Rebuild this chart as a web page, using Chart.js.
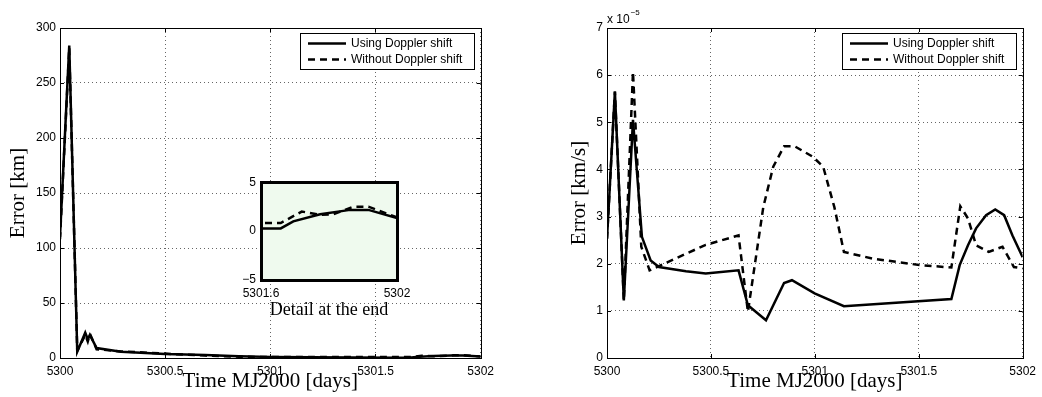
<!DOCTYPE html>
<html>
<head>
<meta charset="utf-8">
<title>Doppler shift error</title>
<script src="https://cdn.jsdelivr.net/npm/chart.js@4.4.0/dist/chart.umd.min.js"></script>
<style>
  html, body { margin: 0; padding: 0; background: #fff; }
  #wrap { position: relative; width: 1042px; height: 397px; overflow: hidden; }
  canvas { position: absolute; }
  #posChart { left: 0; top: 0; }
  #detailChart { left: 220px; top: 170px; }
  #velChart { left: 561px; top: 0; }
</style>
</head>
<body>
<div id="wrap">
  <canvas id="posChart" width="500" height="397"></canvas>
  <canvas id="detailChart" width="200" height="160"></canvas>
  <canvas id="velChart" width="481" height="397"></canvas>
</div>
<script>
// ===================================
// Data
// ===================================

// Tick labels
const posXTicks = [5300, 5300.5, 5301, 5301.5, 5302];
const posYTicks = [0, 50, 100, 150, 200, 250, 300];
const velYTicks = [0, 1, 2, 3, 4, 5, 6, 7];
const detailXTicks = [5301.6, 5302];
const detailYTicks = [-5, 0, 5];

// Position error [km]
const posTimeUsing = [5300, 5300.044, 5300.082, 5300.12, 5300.132, 5300.142, 5300.174, 5300.29, 5300.5, 5300.69, 5300.85, 5301.0, 5301.2, 5301.4, 5301.6, 5301.658, 5301.695, 5301.774, 5301.862, 5301.916, 5302];
const posErrUsing = [110, 284, 5.7, 23, 17, 21, 9, 5.7, 3.6, 2.7, 1.6, 1.0, 0.7, 0.5, 0.27, 0.27, 1.0, 1.73, 2.17, 2.17, 1.33];
const posTimeWithout = [5300, 5300.044, 5300.082, 5300.12, 5300.132, 5300.142, 5300.174, 5300.29, 5300.5, 5300.69, 5300.85, 5301.0, 5301.2, 5301.4, 5301.6, 5301.658, 5301.72, 5301.774, 5301.813, 5301.872, 5301.916, 5302];
const posErrWithout = [108, 282, 6.5, 21, 15, 22, 8, 6, 4, 2.2, 1.2, 0.8, 0.9, 0.9, 0.83, 0.83, 2.0, 1.67, 1.73, 2.5, 2.5, 1.4];

// Velocity error [km/s], in units of 1e-5
const velTimeUsing = [5300, 5300.038, 5300.081, 5300.125, 5300.168, 5300.21, 5300.25, 5300.38, 5300.475, 5300.633, 5300.678, 5300.765, 5300.852, 5300.89, 5300.999, 5301.14, 5301.657, 5301.697, 5301.737, 5301.776, 5301.824, 5301.868, 5301.911, 5301.951, 5302];
const velErrUsing = [2.53, 5.65, 1.22, 5.05, 2.57, 2.07, 1.93, 1.84, 1.79, 1.86, 1.12, 0.8, 1.59, 1.65, 1.37, 1.1, 1.25, 1.97, 2.39, 2.75, 3.03, 3.15, 3.03, 2.6, 2.14];
const velTimeWithout = [5300, 5300.038, 5300.081, 5300.125, 5300.165, 5300.205, 5300.475, 5300.633, 5300.678, 5300.752, 5300.8, 5300.852, 5300.903, 5300.99, 5301.04, 5301.094, 5301.14, 5301.276, 5301.506, 5301.657, 5301.7, 5301.737, 5301.776, 5301.837, 5301.903, 5301.958, 5302];
const velErrWithout = [2.53, 5.65, 1.22, 6.07, 2.36, 1.86, 2.4, 2.6, 0.98, 3.2, 4.06, 4.49, 4.49, 4.27, 4.06, 3.2, 2.25, 2.11, 1.97, 1.92, 3.22, 2.96, 2.39, 2.25, 2.36, 1.93, 1.9];

const seriesLabels = ['Using Doppler shift', 'Without Doppler shift'];

// ===================================
// Helpers
// ===================================

const SERIF = '"Liberation Serif", "Times New Roman", serif';
const SANS = '"Liberation Sans", Arial, Helvetica, sans-serif';

function toPoints(xs, ys) {
    return xs.map((x, i) => ({ x: x, y: ys[i] }));
}

function fmtTick(v) {
    const s = String(Math.round(v * 10) / 10);
    return s.replace('-', '\u2212');
}

function makeDatasets(t1, y1, t2, y2, width) {
    return [{
        label: seriesLabels[0],
        data: toPoints(t1, y1),
        borderColor: '#000',
        borderWidth: width,
        pointRadius: 0,
        tension: 0
    }, {
        label: seriesLabels[1],
        data: toPoints(t2, y2),
        borderColor: '#000',
        borderWidth: width,
        borderDash: [7, 5],
        pointRadius: 0,
        tension: 0
    }];
}

function makeAxis(opts) {
    return {
        type: 'linear',
        min: opts.min,
        max: opts.max,
        afterBuildTicks: scale => { scale.ticks = opts.ticks.map(v => ({ value: v })); },
        afterFit: scale => {
            if (opts.width !== undefined) scale.width = opts.width;
            if (opts.height !== undefined) scale.height = opts.height;
        },
        grid: {
            display: opts.grid,
            drawTicks: false,
            color: 'rgba(0,0,0,0.6)',
            lineWidth: 1
        },
        border: { display: false, dash: [1, 3] },
        ticks: {
            color: '#000',
            font: { family: SANS, size: 12 },
            padding: opts.tickPad,
            maxRotation: 0,
            autoSkip: false,
            callback: v => fmtTick(v)
        },
        title: {
            display: !!opts.title,
            text: opts.title,
            color: '#000',
            font: { family: SERIF, size: opts.titleSize || 21 },
            padding: opts.titlePad
        }
    };
}

// Box, inward tick marks, legend and exponent label in MATLAB style
const matlabFrame = {
    id: 'matlabFrame',
    beforeDraw(chart, args, opts) {
        const a = chart.chartArea;
        const ctx = chart.ctx;
        if (opts.background) {
            ctx.save();
            ctx.fillStyle = opts.background;
            ctx.fillRect(a.left, a.top, a.right - a.left, a.bottom - a.top);
            ctx.restore();
        }
    },
    afterDraw(chart, args, opts) {
        const a = chart.chartArea;
        const ctx = chart.ctx;
        ctx.save();
        ctx.strokeStyle = '#000';
        ctx.lineWidth = opts.boxWidth || 1;
        const off = (ctx.lineWidth % 2) ? 0.5 : 0;
        ctx.strokeRect(Math.round(a.left) + off, Math.round(a.top) + off,
            Math.round(a.right - a.left), Math.round(a.bottom - a.top));

        if (opts.tickMarks) {
            ctx.lineWidth = 1;
            ctx.beginPath();
            chart.scales.x.ticks.forEach(t => {
                const px = Math.round(chart.scales.x.getPixelForValue(t.value)) + 0.5;
                ctx.moveTo(px, a.bottom); ctx.lineTo(px, a.bottom - 4);
                ctx.moveTo(px, a.top); ctx.lineTo(px, a.top + 4);
            });
            chart.scales.y.ticks.forEach(t => {
                const py = Math.round(chart.scales.y.getPixelForValue(t.value)) + 0.5;
                ctx.moveTo(a.left, py); ctx.lineTo(a.left + 4, py);
                ctx.moveTo(a.right, py); ctx.lineTo(a.right - 4, py);
            });
            ctx.stroke();
        }

        if (opts.exponent) {
            ctx.fillStyle = '#000';
            ctx.textBaseline = 'alphabetic';
            ctx.font = '12px ' + SANS;
            ctx.fillText('x 10', a.left, a.top - 5);
            const w = ctx.measureText('x 10').width;
            ctx.font = '8px ' + SANS;
            ctx.fillText(opts.exponent, a.left + w + 1, a.top - 13);
        }

        if (opts.legend) {
            const w = 174, h = 36;
            const x0 = Math.round(a.right) - 7 - w;
            const y0 = Math.round(a.top) + 5;
            ctx.fillStyle = '#fff';
            ctx.fillRect(x0, y0, w, h);
            ctx.lineWidth = 1;
            ctx.strokeStyle = '#000';
            ctx.strokeRect(x0 + 0.5, y0 + 0.5, w, h);
            chart.data.datasets.forEach((ds, i) => {
                const y = y0 + 10.5 + i * 16;
                ctx.setLineDash(ds.borderDash || []);
                ctx.lineWidth = ds.borderWidth;
                ctx.beginPath();
                ctx.moveTo(x0 + 8, y);
                ctx.lineTo(x0 + 46, y);
                ctx.stroke();
                ctx.setLineDash([]);
                ctx.fillStyle = '#000';
                ctx.font = '12px ' + SANS;
                ctx.textBaseline = 'middle';
                ctx.fillText(ds.label, x0 + 51, y);
            });
        }
        ctx.restore();
    }
};

// ===================================
// Charts
// ===================================

function initializeCharts() {
    // Position error
    new Chart(document.getElementById('posChart'), {
        type: 'line',
        data: { datasets: makeDatasets(posTimeUsing, posErrUsing, posTimeWithout, posErrWithout, 2.5) },
        options: {
            responsive: false,
            animation: false,
            layout: { padding: { left: 0, top: 28, right: 19, bottom: 0 } },
            plugins: {
                legend: { display: false },
                tooltip: { enabled: false },
                matlabFrame: { tickMarks: true, legend: true }
            },
            scales: {
                x: makeAxis({ min: 5300, max: 5302, ticks: posXTicks, grid: true, height: 39, tickPad: 6,
                    title: 'Time MJ2000 [days]', titlePad: { top: 0, bottom: 3 } }),
                y: makeAxis({ min: 0, max: 300, ticks: posYTicks, grid: true, width: 60, tickPad: 4,
                    title: 'Error [km]', titlePad: { top: 6, bottom: 0 } })
            }
        },
        plugins: [matlabFrame]
    });

    // Detail inset (same data, last part)
    new Chart(document.getElementById('detailChart'), {
        type: 'line',
        data: { datasets: makeDatasets(posTimeUsing, posErrUsing, posTimeWithout, posErrWithout, 2.5) },
        options: {
            responsive: false,
            animation: false,
            layout: { padding: { left: 0, top: 10, right: 23, bottom: 0 } },
            plugins: {
                legend: { display: false },
                tooltip: { enabled: false },
                matlabFrame: { background: '#effaee', boxWidth: 3 }
            },
            scales: {
                x: makeAxis({ min: 5301.6, max: 5302, ticks: detailXTicks, grid: false, height: 50, tickPad: 6,
                    title: 'Detail at the end', titleSize: 18, titlePad: { top: 0, bottom: 9 } }),
                y: makeAxis({ min: -5, max: 5, ticks: detailYTicks, grid: false, width: 41, tickPad: 5 })
            }
        },
        plugins: [matlabFrame]
    });

    // Velocity error
    new Chart(document.getElementById('velChart'), {
        type: 'line',
        data: { datasets: makeDatasets(velTimeUsing, velErrUsing, velTimeWithout, velErrWithout, 2.5) },
        options: {
            responsive: false,
            animation: false,
            layout: { padding: { left: 0, top: 28, right: 15, bottom: 0 } },
            plugins: {
                legend: { display: false },
                tooltip: { enabled: false },
                matlabFrame: { tickMarks: true, legend: true, exponent: '\u22125' }
            },
            scales: {
                x: makeAxis({ min: 5300, max: 5302, ticks: posXTicks, grid: true, height: 39, tickPad: 6,
                    title: 'Time MJ2000 [days]', titlePad: { top: 0, bottom: 3 } }),
                y: makeAxis({ min: 0, max: 7, ticks: velYTicks, grid: true, width: 46, tickPad: 4,
                    title: 'Error [km/s]', titlePad: { top: 6, bottom: 0 } })
            }
        },
        plugins: [matlabFrame]
    });
}

initializeCharts();
</script>
</body>
</html>
